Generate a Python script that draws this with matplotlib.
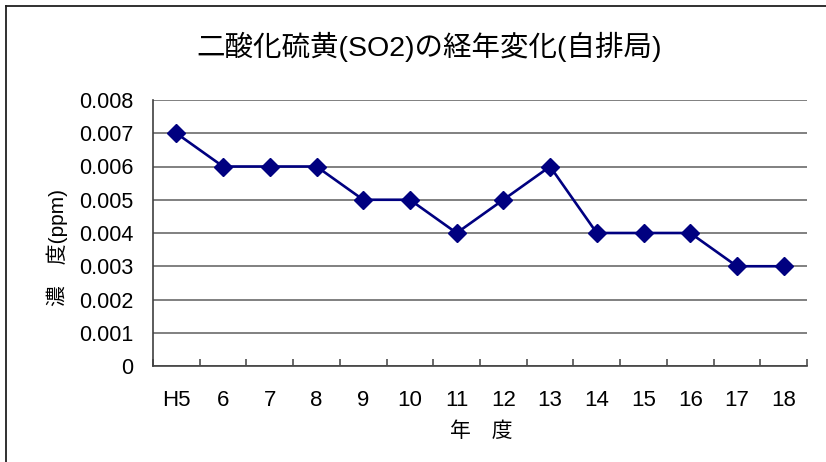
import matplotlib
matplotlib.use("Agg")
import matplotlib.pyplot as plt
from matplotlib.lines import Line2D
from matplotlib.ticker import MultipleLocator, FixedLocator

plt.rcParams['font.family'] = ['Liberation Sans', 'Noto Sans CJK JP', 'DejaVu Sans']

# Data
years = ["H5", "6", "7", "8", "9", "10", "11", "12", "13", "14", "15", "16", "17", "18"]
so2_ppm = [0.007, 0.006, 0.006, 0.006, 0.005, 0.005, 0.004, 0.005, 0.006,
           0.004, 0.004, 0.004, 0.003, 0.003]

title = "二酸化硫黄(SO2)の経年変化(自排局)"
xlabel = "年　度"
ylabel = "濃　度(ppm)"

W, H = 826, 462
fig = plt.figure(figsize=(W / 100, H / 100), dpi=100)
fig.patch.set_facecolor("white")

# plot area in pixels: left 153, right 807, top 100, bottom 366
ax = fig.add_axes([153 / W, (H - 366) / H, (807 - 153) / W, (366 - 100) / H])

x = list(range(len(years)))
ax.plot(x, so2_ppm, color="#000080", linewidth=1.9, marker="D",
        markersize=9, markerfacecolor="#000080", markeredgecolor="#000080",
        zorder=3, clip_on=False)

ax.set_xlim(-0.5, len(years) - 0.5)
ax.set_ylim(0, 0.008)
ax.yaxis.set_major_locator(MultipleLocator(0.001))
ax.set_yticklabels(["0" if v == 0 else f"{v:.3f}" for v in ax.get_yticks()])
ax.tick_params(axis="y", length=0, pad=14, labelsize=15.5)

ax.set_xticks(x)
ax.set_xticklabels(years)
ax.tick_params(axis="x", which="major", length=0, pad=17, labelsize=16)
ax.xaxis.set_minor_locator(FixedLocator([i - 0.5 for i in range(len(years) + 1)]))
ax.tick_params(axis="x", which="minor", direction="in", length=5,
               width=1.1, color="#404040")

ax.grid(axis="y", color="#808080", linewidth=1.4)
ax.set_axisbelow(True)
for side in ["top", "right"]:
    ax.spines[side].set_visible(False)
for side in ["left", "bottom"]:
    ax.spines[side].set_color("#404040")
    ax.spines[side].set_linewidth(1.2)

fig.text(429 / W, 1 - 47 / H, title, ha="center", va="center", fontsize=20.5)
fig.text(481 / W, 1 - 431 / H, xlabel, ha="center", va="center", fontsize=15)
fig.text(57 / W, 1 - 247 / H, ylabel, ha="center", va="center", fontsize=15,
         rotation=90)

# chart frame (only top and left edges visible in the reference)
fig.add_artist(Line2D([6 / W, 6 / W], [0, 1 - 6 / H], transform=fig.transFigure,
                      color="#202020", linewidth=1.3))
fig.add_artist(Line2D([6 / W, 1], [1 - 6 / H, 1 - 6 / H], transform=fig.transFigure,
                      color="#202020", linewidth=1.3))

fig.savefig("out.png", dpi=100, facecolor="white")
